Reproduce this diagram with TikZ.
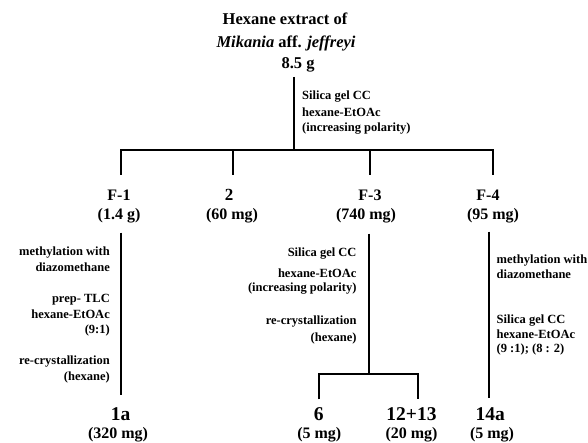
\documentclass[tikz,border=0pt]{standalone}
\usepackage{fontspec}
\setmainfont{Liberation Serif}
\begin{document}
\begin{tikzpicture}[x=1pt,y=-1pt,
  sm/.style={font=\fontsize{12.5}{15}\selectfont\bfseries, inner sep=0pt},
  smr/.style={sm, anchor=base east},
  sml/.style={sm, anchor=base west},
  lab/.style={font=\fontsize{16}{19}\selectfont\bfseries, inner sep=0pt, anchor=base},
  cmp/.style={font=\fontsize{19.5}{23}\selectfont\bfseries, inner sep=0pt, anchor=base},
  ttl/.style={font=\fontsize{16.5}{20}\selectfont\bfseries, inner sep=0pt, anchor=base},
  ln/.style={line width=2pt}]
\useasboundingbox (0,0) rectangle (588,443);

% title
\node[ttl] (t1) at (285,24.5) {Hexane extract of};
\node[ttl] (t2) at (286,47.5) {\textit{Mikania} aff. \textit{jeffreyi}};
\node[ttl] (t3) at (298,68.5) {8.5 g};

% top procedure
\node[sml] (p1) at (302,99.5) {Silica gel CC};
\node[sml] (p2) at (302,116.5) {hexane-EtOAc};
\node[sml] (p3) at (302,132) {(increasing polarity)};

% fractions
\node[lab] (f1) at (119,200.5) {F-1};
\node[lab] (f1m) at (119,220) {(1.4 g)};
\node[font=\fontsize{17}{20}\selectfont\bfseries, inner sep=0pt, anchor=base] (f2) at (229,200.5) {2};
\node[lab] (f2m) at (232,220) {(60 mg)};
\node[lab] (f3) at (370,200.5) {F-3};
\node[lab] (f3m) at (366,220) {(740 mg)};
\node[lab] (f4) at (488,200.5) {F-4};
\node[lab] (f4m) at (493,220) {(95 mg)};

% F-1 procedures
\node[smr] (q1) at (110,256) {methylation with};
\node[smr] (q2) at (110,271.5) {diazomethane};
\node[smr] (q3) at (110,302.5) {prep- TLC};
\node[smr] (q4) at (110,318) {hexane-EtOAc};
\node[smr] (q5) at (110,333) {(9:1)};
\node[smr] (q6) at (110,364.5) {re-crystallization};
\node[smr] (q7) at (110,380) {(hexane)};

% F-3 procedures
\node[smr] (r1) at (356.7,257) {Silica gel CC};
\node[smr] (r2) at (356.7,277) {hexane-EtOAc};
\node[smr] (r3) at (356.7,291.5) {(increasing polarity)};
\node[smr] (r4) at (356.7,324.5) {re-crystallization};
\node[smr] (r5) at (356.7,341.5) {(hexane)};

% F-4 procedures
\node[sml] (s1) at (496.5,263.5) {methylation with};
\node[sml] (s2) at (496.5,278.5) {diazomethane};
\node[sml] (s3) at (496.5,323) {Silica gel CC};
\node[sml] (s4) at (496.5,338.5) {hexane-EtOAc};
\node[sml] (s5) at (496.5,352.5) {(9 :1); (8 : 2)};

% compounds
\node[cmp] (c1a) at (120.7,420.5) {1a};
\node[lab] (c1am) at (118,438) {(320 mg)};
\node[cmp] (c6) at (318.7,420.5) {6};
\node[lab] (c6m) at (319.3,438) {(5 mg)};
\node[cmp] (c12) at (411.5,420.5) {12+13};
\node[lab] (c12m) at (411.5,438) {(20 mg)};
\node[cmp] (c14) at (490.3,420.5) {14a};
\node[lab] (c14m) at (492,438) {(5 mg)};

% connector coordinates
\coordinate (a0) at (294.3,77);
\coordinate (a1) at (294.3,150.5);
\coordinate (b1) at (120.7,150.5);
\coordinate (b2) at (232.7,150.5);
\coordinate (b3) at (370,150.5);
\coordinate (b4) at (492.7,150.5);
\coordinate (d1) at (120.7,175);
\coordinate (d2) at (232.7,175);
\coordinate (d3) at (370,175);
\coordinate (d4) at (492.7,175);
\coordinate (e1) at (120.7,232.7);
\coordinate (g1) at (120.7,395);
\coordinate (e3) at (368.7,233.7);
\coordinate (g3) at (368.7,373.7);
\coordinate (h1) at (319.3,373.7);
\coordinate (h2) at (418,373.7);
\coordinate (k1) at (319.3,399.3);
\coordinate (k2) at (418,399.3);
\coordinate (e4) at (488.7,231.7);
\coordinate (g4) at (488.7,398.3);

\draw[ln] (a0) -- (a1);
\draw[ln] (d1) -- (b1) -- (b4) -- (d4);
\draw[ln] (b2) -- (d2);
\draw[ln] (b3) -- (d3);
\draw[ln] (e1) -- (g1);
\draw[ln] (e3) -- (g3);
\draw[ln] (k1) -- (h1) -- (h2) -- (k2);
\draw[ln] (e4) -- (g4);
\end{tikzpicture}
\end{document}
